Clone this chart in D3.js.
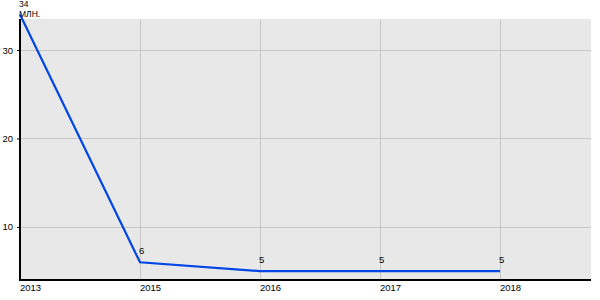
<!DOCTYPE html>
<html>
<head>
<meta charset="utf-8">
<script src="https://cdn.jsdelivr.net/npm/d3@7"></script>
<style>
  body { margin: 0; background: #fff; }
  text { font-family: "Liberation Sans", Arial, sans-serif; }
</style>
</head>
<body>
<svg id="chart" width="600" height="300"></svg>
<script>
const years = ['2013', '2015', '2016', '2017', '2018'];
const values = [34, 6, 5, 5, 5];
const yTicks = [10, 20, 30];
const unit = 'МЛН.';

const svg = d3.select('#chart');
const plotLeft = 20, plotRight = 591, plotTop = 19, plotBottom = 280;

const x = d3.scalePoint()
    .domain(years)
    .range([plotLeft, plotLeft + 120 * (years.length - 1)]);

const y = d3.scaleLinear()
    .domain([4, 33.5])
    .range([plotBottom, plotTop]);

// plot background
svg.append('rect')
    .attr('x', plotLeft)
    .attr('y', plotTop)
    .attr('width', plotRight - plotLeft)
    .attr('height', plotBottom - plotTop)
    .attr('fill', '#e8e8e8');

// grid
svg.append('g')
    .selectAll('line')
    .data(yTicks)
    .enter()
    .append('line')
    .attr('x1', plotLeft)
    .attr('x2', plotRight)
    .attr('y1', d => Math.round(y(d)) + 0.5)
    .attr('y2', d => Math.round(y(d)) + 0.5)
    .attr('stroke', '#c6c6c6');

svg.append('g')
    .selectAll('line')
    .data(years.slice(1))
    .enter()
    .append('line')
    .attr('x1', d => x(d) + 0.5)
    .attr('x2', d => x(d) + 0.5)
    .attr('y1', plotTop)
    .attr('y2', plotBottom)
    .attr('stroke', '#c6c6c6');

// y axis
const yAxis = svg.append('g')
    .attr('transform', `translate(${plotLeft},0)`)
    .call(d3.axisLeft(y).tickValues(yTicks).tickSize(3).tickPadding(4));
yAxis.select('.domain').remove();
yAxis.selectAll('line').attr('stroke', '#000');
yAxis.selectAll('text')
    .style('font-size', '9.5px')
    .attr('fill', '#000');

svg.append('line')
    .attr('x1', plotLeft)
    .attr('x2', plotLeft)
    .attr('y1', plotTop)
    .attr('y2', plotBottom + 1)
    .attr('stroke', '#000')
    .attr('stroke-width', 2);

// x axis
svg.append('line')
    .attr('x1', plotLeft - 1)
    .attr('x2', plotRight)
    .attr('y1', plotBottom)
    .attr('y2', plotBottom)
    .attr('stroke', '#000')
    .attr('stroke-width', 2);

svg.append('g')
    .selectAll('text')
    .data(years)
    .enter()
    .append('text')
    .attr('x', d => x(d))
    .attr('y', 291)
    .style('font-size', '9.5px')
    .text(d => d);

// line
svg.append('path')
    .datum(values)
    .attr('fill', 'none')
    .attr('stroke', '#0046e6')
    .attr('stroke-width', 2.2)
    .attr('d', d3.line()
        .x((d, i) => x(years[i]))
        .y(d => y(d)));

// value labels
svg.append('g')
    .selectAll('text')
    .data(values.slice(1))
    .enter()
    .append('text')
    .attr('x', (d, i) => x(years[i + 1]) - 1)
    .attr('y', d => y(d) - 8)
    .style('font-size', '9.5px')
    .text(d => d);

// first value with its unit below it
svg.append('text')
    .attr('x', plotLeft - 1)
    .attr('y', 7)
    .style('font-size', '8.5px')
    .text(values[0]);

svg.append('text')
    .attr('x', plotLeft - 1)
    .attr('y', 16.8)
    .style('font-size', '8.5px')
    .text(unit);
</script>
</body>
</html>
